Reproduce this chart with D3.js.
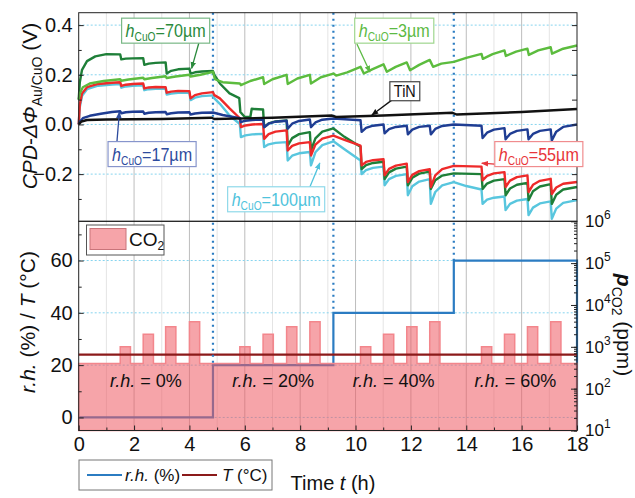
<!DOCTYPE html>
<meta charset="utf-8">
<title>CPD response to CO2 pulses</title>
<style type="text/css">
	body { margin: 0; background: #fff; }
	svg { font-family: "Liberation Sans Narrow", "Arial Narrow", "Liberation Sans", sans-serif; }
</style>
<body>
<div id="chart"></div>
</body>
<script src="https://d3js.org/d3.v7.min.js"></script>
<script>

// ---- data ----

// humidity switch times (h) and r.h. levels (%)
var rhTimes = [0, 4.85, 9.2, 13.55, 18];
var rhLevels = [0, 20, 40, 60, 60];
var rhText = ["r.h. = 0%", "r.h. = 20%", "r.h. = 40%", "r.h. = 60%"];
var tempLevel = 24;

// CO2 pulses (ppm on log axis)
var co2Base = 400;
var co2Start = [1.5, 2.33, 3.14, 4.0, 5.82, 6.66, 7.51, 8.35, 10.18, 11.01, 11.85, 12.68, 14.55, 15.38, 16.21, 17.05];
var co2Level = [1000, 2000, 3000, 4000, 1000, 2000, 3000, 4000, 1000, 2000, 3000, 4000, 1000, 2000, 3000, 4000];
var co2Width = 0.37;

// CPD traces, [time h, CPD V]
var cpd55 = [[0,0],[0.04,0.08],[0.12,0.125],[0.3,0.15],[0.7,0.163],[1.2,0.168],[1.5,0.17],
	[1.54,0.155],[1.7,0.16],[1.95,0.163],[2.33,0.165],
	[2.37,0.145],[2.53,0.149],[2.78,0.151],[3.14,0.15],
	[3.18,0.128],[3.34,0.132],[3.59,0.135],[4.0,0.134],
	[4.04,0.105],[4.2,0.118],[4.45,0.125],[4.85,0.13],
	[4.9,0.118],[5.1,0.105],[5.45,0.065],[5.82,0.025],
	[5.86,-0.011],[6.02,-0.004],[6.27,0],[6.66,0.002],
	[6.7,-0.058],[6.86,-0.039],[7.11,-0.029],[7.51,-0.024],
	[7.55,-0.105],[7.71,-0.086],[7.96,-0.076],[8.35,-0.071],
	[8.39,-0.125],[8.55,-0.081],[8.8,-0.057],[9.2,-0.045],
	[9.6,-0.062],[10.18,-0.085],
	[10.22,-0.165],[10.38,-0.151],[10.63,-0.144],[11.01,-0.14],
	[11.05,-0.205],[11.21,-0.179],[11.46,-0.166],[11.85,-0.158],
	[11.89,-0.232],[12.05,-0.203],[12.3,-0.188],[12.68,-0.18],
	[12.72,-0.252],[12.88,-0.205],[13.13,-0.18],[13.55,-0.167],
	[14.55,-0.17],
	[14.59,-0.225],[14.75,-0.207],[15.0,-0.197],[15.38,-0.192],
	[15.42,-0.252],[15.58,-0.226],[15.83,-0.212],[16.21,-0.205],
	[16.25,-0.272],[16.41,-0.243],[16.66,-0.227],[17.05,-0.219],
	[17.09,-0.28],[17.25,-0.254],[17.5,-0.239],[18,-0.232]];

var cpd100 = [[0,0],[0.04,0.07],[0.12,0.115],[0.3,0.142],[0.7,0.156],[1.2,0.161],[1.5,0.163],
	[1.54,0.148],[1.7,0.153],[1.95,0.156],[2.33,0.158],
	[2.37,0.138],[2.53,0.142],[2.78,0.144],[3.14,0.144],
	[3.18,0.12],[3.34,0.124],[3.59,0.127],[4.0,0.127],
	[4.04,0.098],[4.2,0.108],[4.45,0.114],[4.85,0.117],
	[4.9,0.105],[5.1,0.083],[5.45,0.036],[5.82,0.002],
	[5.86,-0.051],[6.02,-0.044],[6.27,-0.04],[6.66,-0.038],
	[6.7,-0.091],[6.86,-0.08],[7.11,-0.074],[7.51,-0.071],
	[7.55,-0.145],[7.71,-0.126],[7.96,-0.116],[8.35,-0.111],
	[8.39,-0.165],[8.55,-0.112],[8.8,-0.083],[9.2,-0.068],
	[9.6,-0.1],[10.18,-0.145],
	[10.22,-0.2],[10.38,-0.184],[10.63,-0.175],[11.01,-0.17],
	[11.05,-0.245],[11.21,-0.22],[11.46,-0.207],[11.85,-0.2],
	[11.89,-0.285],[12.05,-0.249],[12.3,-0.23],[12.68,-0.22],
	[12.72,-0.32],[12.88,-0.272],[13.13,-0.245],[13.55,-0.232],
	[14.0,-0.248],[14.55,-0.262],
	[14.59,-0.32],[14.75,-0.303],[15.0,-0.295],[15.38,-0.29],
	[15.42,-0.345],[15.58,-0.32],[15.83,-0.307],[16.21,-0.3],
	[16.25,-0.365],[16.41,-0.335],[16.66,-0.318],[17.05,-0.31],
	[17.09,-0.38],[17.25,-0.339],[17.5,-0.316],[18,-0.305]];

var cpd70 = [[0,0.1],[0.04,0.17],[0.12,0.22],[0.3,0.255],[0.6,0.274],[1.0,0.283],[1.5,0.282],
	[1.54,0.262],[1.7,0.265],[1.95,0.266],[2.33,0.267],
	[2.37,0.24],[2.53,0.245],[2.78,0.248],[3.14,0.25],
	[3.18,0.205],[3.34,0.216],[3.59,0.222],[4.0,0.225],
	[4.04,0.205],[4.2,0.21],[4.45,0.213],[4.85,0.215],
	[4.9,0.2],[5.1,0.165],[5.45,0.125],[5.8,0.106],
	[5.84,0.05],[6.0,0.03],[6.2,0.03],[6.25,0.063],[6.66,0.06],
	[6.7,-0.011],[6.86,0.004],[7.11,0.012],[7.51,0.016],
	[7.55,-0.085],[7.71,-0.055],[7.96,-0.039],[8.35,-0.031],
	[8.39,-0.105],[8.55,-0.056],[8.8,-0.029],[9.2,-0.016],
	[9.6,-0.05],[10.18,-0.09],
	[10.22,-0.18],[10.38,-0.164],[10.63,-0.155],[11.01,-0.15],
	[11.05,-0.22],[11.21,-0.193],[11.46,-0.178],[11.85,-0.17],
	[11.89,-0.245],[12.05,-0.215],[12.3,-0.198],[12.68,-0.19],
	[12.72,-0.26],[12.88,-0.225],[13.13,-0.206],[13.55,-0.197],
	[14.55,-0.2],
	[14.59,-0.26],[14.75,-0.238],[15.0,-0.226],[15.38,-0.22],
	[15.42,-0.285],[15.58,-0.258],[15.83,-0.243],[16.21,-0.235],
	[16.25,-0.305],[16.41,-0.269],[16.66,-0.25],[17.05,-0.24],
	[17.09,-0.32],[17.25,-0.283],[17.5,-0.262],[18,-0.252]];

var cpd17 = [[0,0],[0.04,0.012],[0.15,0.025],[0.4,0.035],[0.8,0.043],[1.2,0.05],[1.5,0.053],
	[1.54,0.045],[1.7,0.049],[1.95,0.051],[2.33,0.052],
	[2.37,0.043],[2.53,0.047],[2.78,0.049],[3.14,0.05],
	[3.18,0.041],[3.34,0.045],[3.59,0.048],[4.0,0.049],
	[4.04,0.04],[4.2,0.044],[4.45,0.047],[4.85,0.048],
	[5.2,0.038],[5.82,0.025],
	[5.86,0.009],[6.02,0.015],[6.27,0.018],[6.66,0.02],
	[6.7,-0.011],[6.86,0.003],[7.11,0.011],[7.51,0.015],
	[7.55,-0.017],[7.71,0.003],[7.96,0.014],[8.35,0.02],
	[8.39,-0.011],[8.55,0.008],[8.8,0.019],[9.2,0.024],
	[10.18,0.017],
	[10.22,-0.03],[10.38,-0.014],[10.63,-0.005],[11.01,0],
	[11.05,-0.036],[11.21,-0.019],[11.46,-0.01],[11.85,-0.005],
	[11.89,-0.04],[12.05,-0.021],[12.3,-0.01],[12.68,-0.005],
	[12.72,-0.04],[12.88,-0.018],[13.13,-0.006],[13.55,0],
	[14.55,-0.005],
	[14.59,-0.055],[14.75,-0.033],[15.0,-0.021],[15.38,-0.015],
	[15.42,-0.06],[15.58,-0.038],[15.83,-0.026],[16.21,-0.02],
	[16.25,-0.06],[16.41,-0.038],[16.66,-0.026],[17.05,-0.02],
	[17.09,-0.065],[17.25,-0.029],[17.5,-0.01],[18,0]];

var cpd3 = [[0,0.1],[0.04,0.125],[0.15,0.15],[0.4,0.165],[0.9,0.175],[1.5,0.182],
	[1.54,0.176],[1.8,0.181],[2.33,0.188],
	[2.37,0.182],[2.65,0.187],[3.14,0.194],
	[3.18,0.187],[3.5,0.193],[4.0,0.2],
	[4.04,0.193],[4.4,0.2],[4.85,0.212],
	[4.92,0.182],[5.2,0.17],[5.82,0.165],
	[5.86,0.158],[6.2,0.175],[6.66,0.19],
	[6.7,0.163],[7.0,0.182],[7.51,0.2],
	[7.55,0.163],[7.9,0.185],[8.35,0.2],
	[8.39,0.165],[8.75,0.19],[9.2,0.205],
	[9.3,0.197],[9.7,0.21],[10.18,0.232],
	[10.3,0.205],[10.6,0.222],[11.01,0.242],
	[11.13,0.212],[11.45,0.232],[11.85,0.25],
	[11.97,0.218],[12.3,0.24],[12.68,0.26],
	[12.8,0.232],[13.1,0.245],[13.55,0.252],
	[14.0,0.268],[14.55,0.284],
	[14.6,0.264],[14.95,0.283],[15.38,0.298],
	[15.43,0.276],[15.8,0.293],[16.21,0.305],
	[16.26,0.28],[16.6,0.298],[17.05,0.311],
	[17.1,0.285],[17.5,0.305],[18,0.318]];

var cpdTiN = [[0,0],[0.1,0.012],[0.3,0.018],[1,0.02],[3,0.022],[4.8,0.027],[4.9,0.022],
	[7,0.027],[9.15,0.036],[9.3,0.03],[11,0.036],[13.5,0.047],[13.65,0.04],[16,0.05],[18,0.062]];

// ---- layout ----
var W = 635, H = 498;
var left = 78.7, right = 577, top1 = 12.7, mid = 221.3, bottom = 430.5;

var svg = d3.select("#chart").append("svg")
	.attr("width", W).attr("height", H);
svg.append("rect").attr("width", W).attr("height", H).attr("fill", "#fff");

var x = d3.scaleLinear().domain([0, 18]).range([left, right]);
var yCpd = d3.scaleLinear().domain([-0.39, 0.45]).range([mid, top1]);
var yRh = d3.scaleLinear().domain([-5, 75]).range([bottom, mid]);
var yCo2 = d3.scaleLog().domain([10, 1e6]).range([bottom, mid]);

var blueRh = "#2b7cc2", darkRed = "#8b1a1a";

// ---- grid ----
var grid = svg.append("g");
d3.range(1, 18).forEach(function(h) {
	grid.append("line")
		.attr("x1", x(h)).attr("x2", x(h)).attr("y1", top1).attr("y2", bottom)
		.attr("stroke", h % 2 == 0 ? "#bdbdbd" : "#e4e4e4").attr("stroke-width", 1);
});
[0.4, 0.2, 0, -0.2].forEach(function(v) {
	grid.append("line").attr("x1", left).attr("x2", right)
		.attr("y1", yCpd(v)).attr("y2", yCpd(v))
		.attr("stroke", "#86d4ef").attr("stroke-dasharray", "2,2");
});
[0, 20, 40, 60].forEach(function(v) {
	grid.append("line").attr("x1", left).attr("x2", right)
		.attr("y1", yRh(v)).attr("y2", yRh(v))
		.attr("stroke", "#86d4ef").attr("stroke-dasharray", "2,2");
});

// ---- bottom panel: r.h. line (below the CO2 fill), CO2 fill, temperature ----
var rhPts = rhTimes.map(function(t, i) { return [t, rhLevels[i]]; });
rhPts.push([18, -5]);
svg.append("path").datum(rhPts)
	.attr("d", d3.line().x(function(d) { return x(d[0]); }).y(function(d) { return yRh(d[1]); })
		.curve(d3.curveStepAfter))
	.attr("fill", "none").attr("stroke", blueRh).attr("stroke-width", 2.2);

var co2Pts = [[0, co2Base]];
co2Start.forEach(function(s, i) {
	co2Pts.push([s, co2Base], [s, co2Level[i]], [s + co2Width, co2Level[i]], [s + co2Width, co2Base]);
});
co2Pts.push([18, co2Base], [18, 10], [0, 10]);
var co2Line = d3.line().x(function(d) { return x(d[0]); }).y(function(d) { return yCo2(d[1]); });
svg.append("path").datum(co2Pts)
	.attr("d", function(d) { return co2Line(d) + "Z"; })
	.attr("fill", "#ee5a63").attr("fill-opacity", 0.55)
	.attr("stroke", "#f3868c").attr("stroke-width", 1.5);

svg.append("line")
	.attr("x1", x(0)).attr("x2", x(18)).attr("y1", yRh(tempLevel)).attr("y2", yRh(tempLevel))
	.attr("stroke", darkRed).attr("stroke-width", 2.2);

// r.h. labels centred in each humidity period
rhText.forEach(function(s, i) {
	var parts = s.split(" = ");
	var t = svg.append("text")
		.attr("x", x((rhTimes[i] + rhTimes[i + 1]) / 2)).attr("y", yRh(14) + 6)
		.attr("text-anchor", "middle").attr("font-size", 18).attr("fill", "#111");
	t.append("tspan").attr("font-style", "italic").text(parts[0]);
	t.append("tspan").text(" = " + parts[1]);
});

// ---- dotted r.h. switch markers ----
rhTimes.slice(1, 4).forEach(function(t, i) {
	svg.append("line")
		.attr("x1", x(t)).attr("x2", x(t)).attr("y1", top1).attr("y2", yRh(rhLevels[i + 1]))
		.attr("stroke", blueRh).attr("stroke-width", 2.2).attr("stroke-dasharray", "2,4");
});

// ---- top panel: CPD traces ----
var series = [
	{ d: cpd100, c: "#58c6de" },
	{ d: cpd70, c: "#1e7f38" },
	{ d: cpd55, c: "#ee2a2a" },
	{ d: cpd3, c: "#5cbc3e" },
	{ d: cpd17, c: "#1f3d93" },
	{ d: cpdTiN, c: "#111111" }
];
var cpdLine = d3.line().x(function(d) { return x(d[0]); }).y(function(d) { return yCpd(d[1]); });
series.forEach(function(s) {
	svg.append("path").datum(s.d).attr("d", cpdLine)
		.attr("fill", "none").attr("stroke", s.c).attr("stroke-width", 2.4)
		.attr("stroke-linejoin", "round");
});

// ---- frames and axes ----
function frame(y0, y1) {
	svg.append("rect").attr("x", left).attr("y", y0).attr("width", right - left).attr("height", y1 - y0)
		.attr("fill", "none").attr("stroke", "#222").attr("stroke-width", 1);
}
frame(top1, mid);
frame(mid, bottom);

function styleAxis(g, size) {
	g.select(".domain").remove();
	g.selectAll(".tick line").attr("stroke", "#222");
	g.selectAll(".tick text").attr("font-size", size).attr("fill", "#111")
		.attr("font-family", "\"Liberation Sans Narrow\", \"Arial Narrow\", sans-serif");
}

// top left / right
var g;
g = svg.append("g").attr("transform", "translate(" + left + ",0)")
	.call(d3.axisLeft(yCpd).tickValues([-0.2, 0, 0.2, 0.4]).tickSize(-5).tickPadding(6).tickFormat(d3.format(".1f")));
styleAxis(g, 20);
g = svg.append("g").attr("transform", "translate(" + left + ",0)")
	.call(d3.axisLeft(yCpd).tickValues([-0.3, -0.1, 0.1, 0.3]).tickSize(-3).tickFormat(""));
styleAxis(g, 20);
g = svg.append("g").attr("transform", "translate(" + right + ",0)")
	.call(d3.axisRight(yCpd).tickValues([-0.3, -0.2, -0.1, 0, 0.1, 0.2, 0.3, 0.4]).tickSize(-5).tickFormat(""));
styleAxis(g, 20);

// bottom left
g = svg.append("g").attr("transform", "translate(" + left + ",0)")
	.call(d3.axisLeft(yRh).tickValues([0, 20, 40, 60]).tickSize(-5).tickPadding(6));
styleAxis(g, 20);
g = svg.append("g").attr("transform", "translate(" + left + ",0)")
	.call(d3.axisLeft(yRh).tickValues([10, 30, 50, 70]).tickSize(-3).tickFormat(""));
styleAxis(g, 20);

// bottom right, log CO2
g = svg.append("g").attr("transform", "translate(" + right + ",0)")
	.call(d3.axisRight(yCo2).tickValues(yCo2.ticks()).tickSize(-3).tickFormat(""));
styleAxis(g, 18);
g = svg.append("g").attr("transform", "translate(" + right + ",0)")
	.call(d3.axisRight(yCo2).tickValues([10, 100, 1e3, 1e4, 1e5, 1e6]).tickSize(-6).tickPadding(8).tickFormat(""));
styleAxis(g, 17);
g.selectAll(".tick text").attr("text-anchor", "start").each(function(d) {
	var t = d3.select(this);
	t.append("tspan").text("10");
	t.append("tspan").attr("font-size", 12).attr("dy", -8).text(Math.round(Math.log10(d)));
});

// time axis
g = svg.append("g").attr("transform", "translate(0," + bottom + ")")
	.call(d3.axisBottom(x).tickValues(d3.range(0, 19, 2)).tickSize(-5).tickPadding(6));
styleAxis(g, 20);
g = svg.append("g").attr("transform", "translate(0," + bottom + ")")
	.call(d3.axisBottom(x).tickValues(d3.range(1, 18, 2)).tickSize(-3).tickFormat(""));
styleAxis(g, 20);

// ---- axis titles ----
var yl = svg.append("text").attr("transform", "translate(37,106) rotate(-90)")
	.attr("text-anchor", "middle").attr("font-size", 21).attr("fill", "#111");
yl.append("tspan").attr("font-style", "italic").text("CPD");
yl.append("tspan").text("-");
yl.append("tspan").attr("font-style", "italic").text("\u0394\u03A6");
yl.append("tspan").attr("font-size", 14).attr("dy", 5).text("Au/CuO");
yl.append("tspan").attr("dy", -5).text(" (V)");

var yl2 = svg.append("text").attr("transform", "translate(35,322) rotate(-90)")
	.attr("text-anchor", "middle").attr("font-size", 21).attr("fill", "#111");
yl2.append("tspan").attr("font-style", "italic").text("r.h.");
yl2.append("tspan").text(" (%) / ");
yl2.append("tspan").attr("font-style", "italic").text("T");
yl2.append("tspan").text(" (\u00B0C)");

var yr = svg.append("text").attr("transform", "translate(617,325) rotate(90)")
	.attr("text-anchor", "middle").attr("font-size", 21).attr("fill", "#111");
yr.append("tspan").attr("font-style", "italic").attr("font-weight", "bold").text("p");
yr.append("tspan").attr("font-size", 14).attr("dy", 5).text("CO2");
yr.append("tspan").attr("dy", -5).text(" (ppm)");

var xl = svg.append("text").attr("x", 333).attr("y", 490)
	.attr("text-anchor", "middle").attr("font-size", 20).attr("fill", "#111");
xl.append("tspan").text("Time ");
xl.append("tspan").attr("font-style", "italic").text("t");
xl.append("tspan").text(" (h)");

// ---- CO2 legend ----
svg.append("rect").attr("x", 86.5).attr("y", 225).attr("width", 77.5).attr("height", 30)
	.attr("fill", "#fff").attr("stroke", "#555").attr("stroke-width", 1);
svg.append("rect").attr("x", 90).attr("y", 228.5).attr("width", 36).attr("height", 21)
	.attr("fill", "#ee5a63").attr("fill-opacity", 0.55).attr("stroke", "#c9747a").attr("stroke-width", 1);
var lt = svg.append("text").attr("x", 129).attr("y", 246).attr("font-size", 19).attr("fill", "#111");
lt.append("tspan").text("CO");
lt.append("tspan").attr("font-size", 12).attr("dy", 4).text("2");

// ---- r.h./T legend ----
svg.append("rect").attr("x", 79).attr("y", 460).attr("width", 193).attr("height", 30)
	.attr("fill", "#fff").attr("stroke", "#777").attr("stroke-width", 1);
svg.append("line").attr("x1", 87).attr("x2", 122).attr("y1", 475).attr("y2", 475)
	.attr("stroke", blueRh).attr("stroke-width", 2.2);
var l1 = svg.append("text").attr("x", 125).attr("y", 481).attr("font-size", 17).attr("fill", "#111");
l1.append("tspan").attr("font-style", "italic").text("r.h.");
l1.append("tspan").text(" (%)");
svg.append("line").attr("x1", 182).attr("x2", 217).attr("y1", 475).attr("y2", 475)
	.attr("stroke", darkRed).attr("stroke-width", 2.2);
var l2 = svg.append("text").attr("x", 222).attr("y", 481).attr("font-size", 17).attr("fill", "#111");
l2.append("tspan").attr("font-style", "italic").text("T");
l2.append("tspan").text(" (\u00B0C)");

// ---- annotation boxes with arrows (box corner / arrow ends in data units) ----
var notes = [
	{ sub: true, txt: "=70\u00B5m", c: "#2a8a3c", b: "#79b886", bx: 1.55, by: 0.428, sx: 4.34, sy: 0.328, tx: 4.08, ty: 0.226 },
	{ sub: true, txt: "=17\u00B5m", c: "#2d4b9e", b: "#8795cc", bx: 1.06, by: -0.069, sx: 1.38, sy: -0.071, tx: 1.47, ty: 0.05 },
	{ sub: true, txt: "=100\u00B5m", c: "#4fc3dc", b: "#8fd9ea", bx: 5.38, by: -0.251, sx: 8.35, sy: -0.252, tx: 8.71, ty: -0.155 },
	{ sub: true, txt: "=3\u00B5m", c: "#5cba44", b: "#9fd68e", bx: 9.97, by: 0.428, sx: 10.05, sy: 0.324, tx: 10.52, ty: 0.211 },
	{ sub: false, txt: "TiN", c: "#111111", b: "#444444", bx: 11.24, by: 0.172, sx: 11.31, sy: 0.098, tx: 10.59, ty: 0.038 },
	{ sub: true, txt: "=55\u00B5m", c: "#e8353a", b: "#f08c8e", bx: 15.03, by: -0.069, sx: 15.03, sy: -0.16, tx: 14.56, ty: -0.156 }
];
var squeeze = 0.85; // stands in for the condensed face of the original
var defs = svg.append("defs");
notes.forEach(function(n, i) {
	defs.append("marker").attr("id", "ah" + i)
		.attr("viewBox", "0 0 10 10").attr("refX", 9).attr("refY", 5)
		.attr("markerWidth", 7).attr("markerHeight", 7).attr("orient", "auto")
		.attr("markerUnits", "userSpaceOnUse")
		.append("path").attr("d", "M0,1 L10,5 L0,9 Z").attr("fill", n.c);

	svg.append("line")
		.attr("x1", x(n.sx)).attr("y1", yCpd(n.sy)).attr("x2", x(n.tx)).attr("y2", yCpd(n.ty))
		.attr("stroke", n.c).attr("stroke-width", 1.3).attr("marker-end", "url(#ah" + i + ")");

	var bx = x(n.bx), by = yCpd(n.by);
	var box = svg.append("rect").attr("x", bx).attr("y", by)
		.attr("fill", "#fff").attr("stroke", n.b).attr("stroke-width", 1.2);
	var t = svg.append("text")
		.attr("transform", "translate(" + (bx + 4) + "," + (by + (n.sub ? 19 : 15)) + ") scale(" + squeeze + ",1)")
		.attr("font-size", n.sub ? 19 : 17).attr("fill", n.c);
	if (n.sub) {
		t.append("tspan").attr("font-style", "italic").text("h");
		t.append("tspan").attr("font-size", 12).attr("dy", 4).text("CuO");
		t.append("tspan").attr("dy", -4).text(n.txt);
	} else {
		t.text(n.txt);
	}
	var bb = t.node().getBBox();
	box.attr("width", bb.width * squeeze + 8).attr("height", n.sub ? 25 : 19);
});

</script>
